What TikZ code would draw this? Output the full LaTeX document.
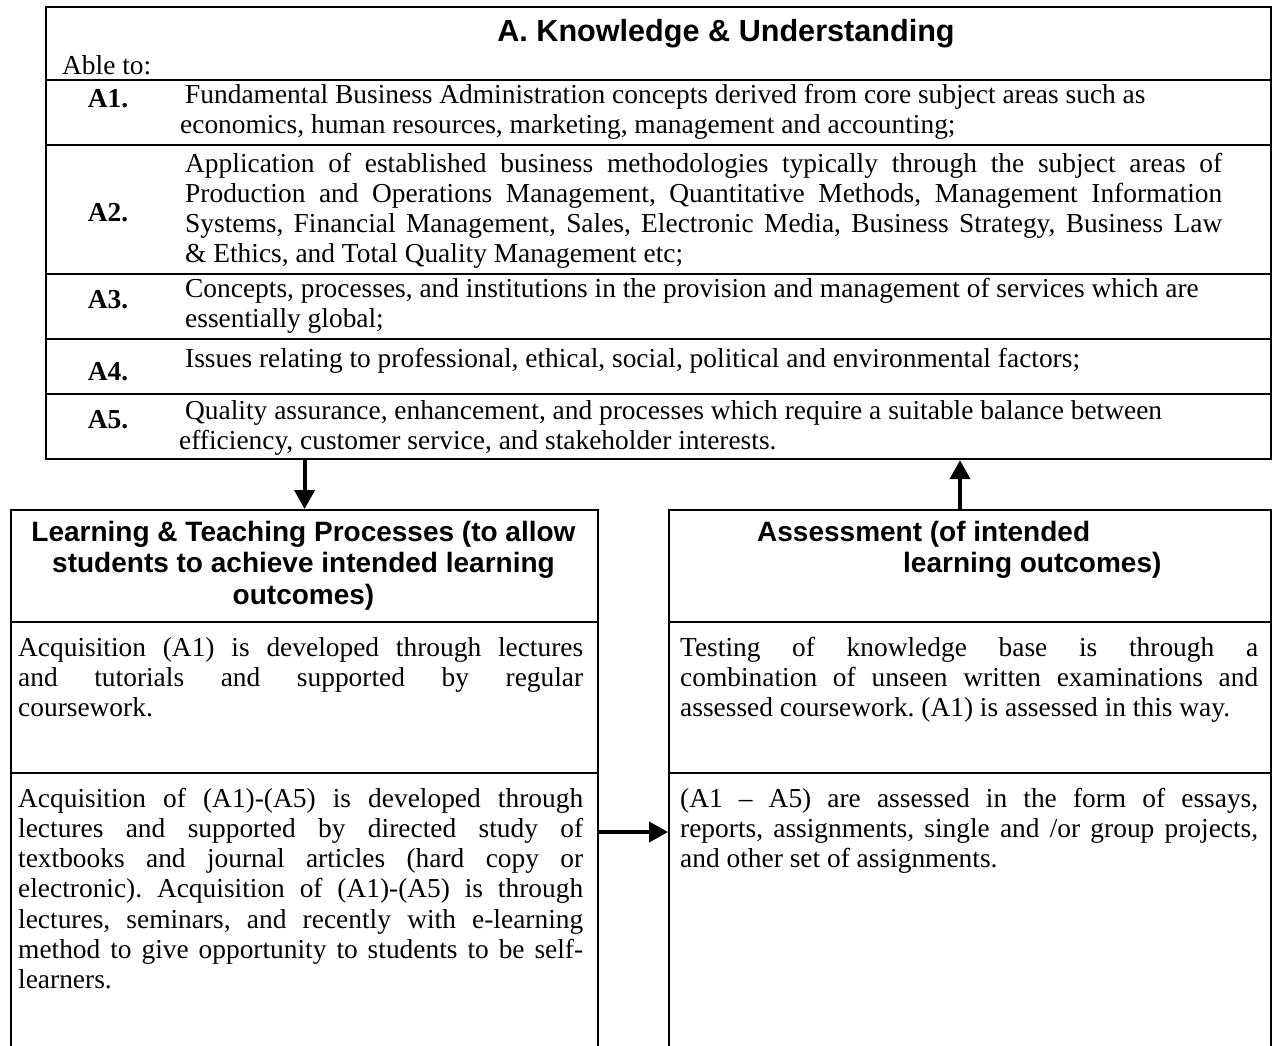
\documentclass[tikz,border=0pt]{standalone}
\usepackage{fontspec}
\setmainfont{Liberation Serif}
\setsansfont{Liberation Sans}
\usetikzlibrary{arrows.meta,positioning}
\newcommand{\bodyfont}{\fontsize{27.4}{30.2}\selectfont\frenchspacing
  \spaceskip=.25em plus .3em minus .1em\hyphenpenalty=10000\exhyphenpenalty=10000}
\newcommand{\headfont}{\fontsize{28}{31.5}\selectfont\sffamily\bfseries}

\begin{document}
\begin{tikzpicture}[x=1pt,y=-1pt,
  frame/.style={draw,line width=2.2pt,anchor=north west,inner sep=0pt},
  rule/.style={line width=2.2pt},
  tag/.style={font=\bodyfont\bfseries,anchor=base},
  cell/.style={font=\bodyfont,anchor=north west,inner sep=0pt,text width=#1,align=justify,execute at begin node=\strut},
  head/.style={font=\headfont,inner sep=0pt,execute at begin node=\strut},
  link/.style={-{Triangle[length=19pt,width=20pt]},line width=4pt}]
\useasboundingbox (0,0) rectangle (1272,1045);
\clip (0,0) rectangle (1272,1045);

% knowledge table
\node[frame,minimum width=1225pt,minimum height=452pt] (know) at (45,6) {};
\node[font=\fontsize{30.6}{33}\selectfont\sffamily\bfseries] (title) at (726,34) {A. Knowledge \& Understanding};
\node[font=\bodyfont,anchor=base west,inner sep=0pt] (able) at (62,74) {Able to:};
\foreach \y in {80,145,274,339,394}
  \draw[rule] (know.west |- 0,\y) -- (know.east |- 0,\y);

\node[tag] (a1) at (108,107) {A1.};
\node[tag] (a2) at (108,221) {A2.};
\node[tag] (a3) at (108,308) {A3.};
\node[tag] (a4) at (108,380) {A4.};
\node[tag] (a5) at (108,428) {A5.};

\node[cell=1040pt] (t1) at (185,82) {Fundamental Business Administration concepts derived from core subject areas such as\\ \hspace*{-5pt}economics, human resources, marketing, management and accounting;};
\node[cell=1037pt] (t2) at (185,151) {Application of established business methodologies typically through the subject areas of\linebreak Production and Operations Management, Quantitative Methods, Management Information\linebreak Systems, Financial Management, Sales, Electronic Media, Business Strategy, Business Law\linebreak \& Ethics, and Total Quality Management etc;};
\node[cell=1040pt] (t3) at (185,276) {Concepts, processes, and institutions in the provision and management of services which are\\ essentially global;};
\node[cell=1040pt] (t4) at (185,346) {Issues relating to professional, ethical, social, political and environmental factors;};
\node[cell=1040pt] (t5) at (185,398) {Quality assurance, enhancement, and processes which require a suitable balance between\\ \hspace*{-6pt}efficiency, customer service, and stakeholder interests.};

% lower boxes
\node[frame,minimum width=587pt,minimum height=560pt] (learn) at (10,509) {};
\node[frame,minimum width=602pt,minimum height=560pt] (assess) at (668,509) {};
\foreach \y in {622,773} {
  \draw[rule] (learn.west |- 0,\y) -- (learn.east |- 0,\y);
  \draw[rule] (assess.west |- 0,\y) -- (assess.east |- 0,\y);
}

\node[head,anchor=north,align=center] (lhead) at (303.5,521) {Learning \& Teaching Processes (to allow\\ students to achieve intended learning\\ outcomes)};
\node[head,anchor=north west,align=left] (rhead) at (757,521) {Assessment (of intended\\ \hspace*{146pt}learning outcomes)};

\node[cell=565pt] (l1) at (18,635) {Acquisition (A1) is developed through lectures\linebreak and tutorials and supported by regular\linebreak coursework.};
\node[cell=565pt] (l2) at (18,786) {Acquisition of (A1)-(A5) is developed through\linebreak lectures and supported by directed study of\linebreak textbooks and journal articles (hard copy or\linebreak electronic). Acquisition of (A1)-(A5) is through\linebreak lectures, seminars, and recently with e-learning\linebreak method to give opportunity to students to be self-\linebreak learners.};
\node[cell=578pt] (r1) at (680,635) {Testing of knowledge base is through a\linebreak combination of unseen written examinations and\linebreak assessed coursework. (A1) is assessed in this way.};
\node[cell=578pt] (r2) at (680,786) {(A1 – A5) are assessed in the form of essays,\linebreak reports, assignments, single and /or group projects,\linebreak and other set of assignments.};

% arrows
\coordinate (up) at (960,0);
\coordinate (side) at (0,832);
\draw[link] (learn.north |- know.south) -- (learn.north);
\draw[link] (up |- assess.north) -- (up |- know.south);
\draw[link] (learn.east |- side) -- (assess.west |- side);
\end{tikzpicture}
\end{document}
